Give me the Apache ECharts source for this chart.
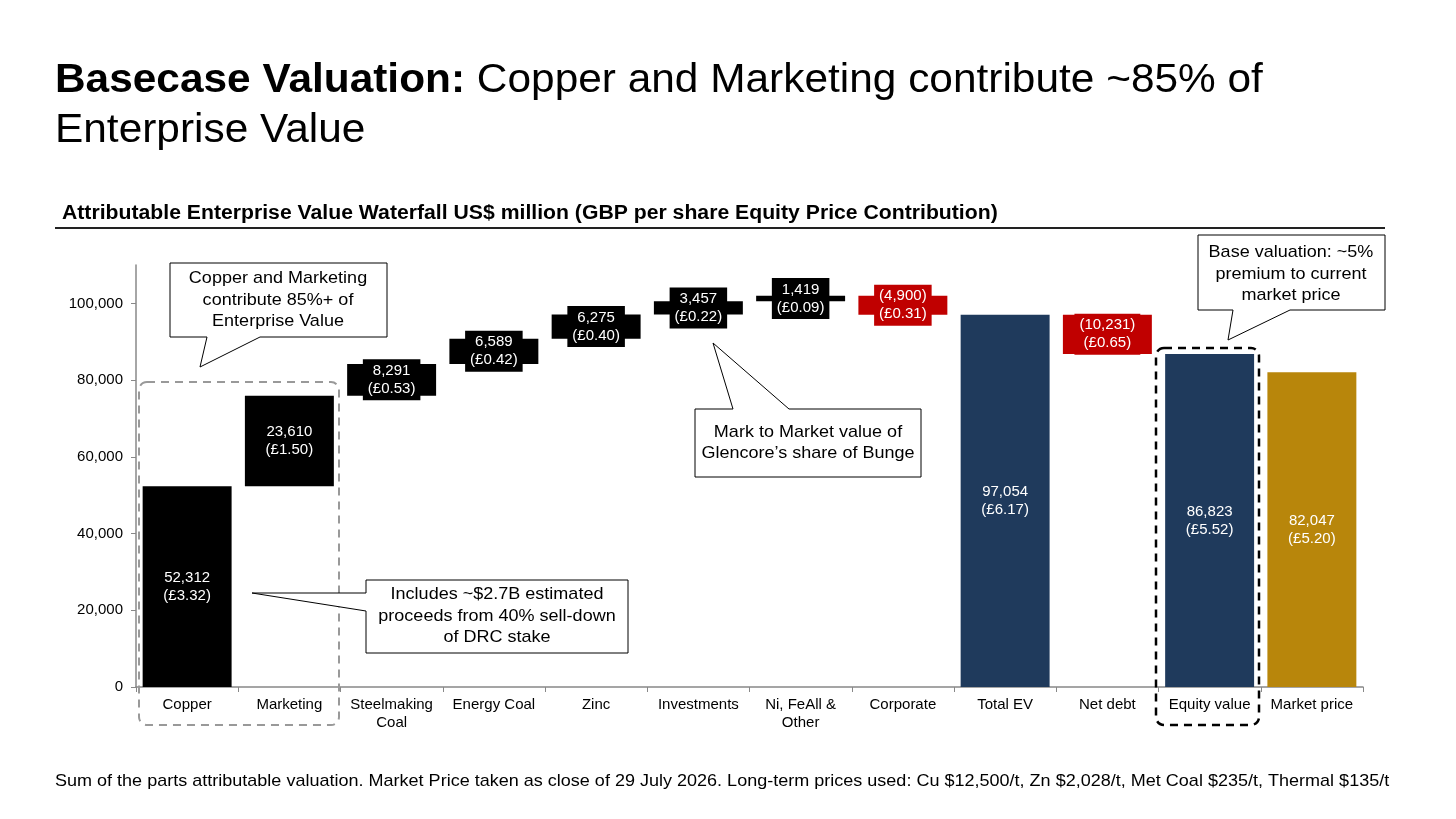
<!DOCTYPE html>
<html>
<head>
<meta charset="utf-8">
<script src="https://cdn.jsdelivr.net/npm/echarts@6/dist/echarts.min.js"></script>
<style>
html,body{margin:0;padding:0;background:#fff;}
#main{width:1456px;height:819px;}
</style>
</head>
<body>
<div id="main"></div>
<script>
// ---- Data ----
var categories = ['Copper', 'Marketing', 'Steelmaking\nCoal', 'Energy Coal', 'Zinc', 'Investments',
  'Ni, FeAll &\nOther', 'Corporate', 'Total EV', 'Net debt', 'Equity value', 'Market price'];
var values = [52312, 23610, 8291, 6589, 6275, 3457, 1419, -4900, 97054, -10231, 86823, 82047];
var gbpPerShare = [3.32, 1.50, 0.53, 0.42, 0.40, 0.22, 0.09, -0.31, 6.17, -0.65, 5.52, 5.20];
var barKind = ['delta', 'delta', 'delta', 'delta', 'delta', 'delta', 'delta', 'delta', 'total', 'delta', 'total', 'market'];
var yTicks = [0, 20000, 40000, 60000, 80000, 100000];

var FONT = '"Liberation Sans", Arial, Helvetica, sans-serif';
var COLORS = { pos: '#000000', neg: '#C00000', total: '#1F3A5C', market: '#B8860B' };

function fmt(n) {
  var s = Math.abs(n).toString().replace(/\B(?=(\d{3})+(?!\d))/g, ',');
  return n < 0 ? '(' + s + ')' : s;
}

var baseData = [], barData = [];
var running = 0;
for (var i = 0; i < values.length; i++) {
  var v = values[i], base, color;
  if (barKind[i] === 'delta') {
    if (v >= 0) { base = running; running += v; color = COLORS.pos; }
    else { running += v; base = running; color = COLORS.neg; }
  } else {
    base = 0; running = v;
    color = barKind[i] === 'market' ? COLORS.market : COLORS.total;
  }
  var floating = barKind[i] === 'delta' && Math.abs(v) < 12000;
  baseData.push(base);
  barData.push({
    value: Math.abs(v),
    itemStyle: { color: color },
    label: {
      show: true,
      position: 'inside',
      formatter: fmt(v) + '\n(£' + Math.abs(gbpPerShare[i]).toFixed(2) + ')',
      color: '#fff',
      fontSize: 15,
      lineHeight: 18,
      fontFamily: FONT,
      backgroundColor: floating ? color : 'transparent',
      padding: floating ? [3, 5, 2, 5] : 0
    }
  });
}

function txt(x, y, text, font, scaleX, extra) {
  var el = { type: 'text', x: x, y: y, scaleX: scaleX, z: 101,
    style: { text: text, fill: '#000', font: font, align: 'left', verticalAlign: 'middle' } };
  if (extra) { for (var k in extra) el.style[k] = extra[k]; }
  return el;
}

function callout(points, lines, cx, cy) {
  return [
    { type: 'polygon', shape: { points: points }, style: { fill: '#fff', stroke: '#000', lineWidth: 1 }, z: 100 },
    { type: 'text', x: cx, y: cy, z: 101, scaleX: 1.06,
      style: { text: lines, fill: '#000', font: '17px ' + FONT, align: 'center', verticalAlign: 'middle', lineHeight: 21.5 } }
  ];
}

var graphics = [
  txt(55, 81, '{b|Basecase Valuation:} Copper and Marketing contribute ~85% of', '40px ' + FONT, 1.06,
    { rich: { b: { fontWeight: 'bold', fontSize: 40, fontFamily: FONT, fill: '#000' } } }),
  txt(55, 131, 'Enterprise Value', '40px ' + FONT, 1.06),
  txt(62, 213, 'Attributable Enterprise Value Waterfall US$ million (GBP per share Equity Price Contribution)', 'bold 20px ' + FONT, 1.06),
  { type: 'line', shape: { x1: 55, y1: 228, x2: 1385, y2: 228 }, style: { stroke: '#222', lineWidth: 2 } },
  txt(55, 781, 'Sum of the parts attributable valuation. Market Price taken as close of 29 July 2026. Long-term prices used: Cu $12,500/t, Zn $2,028/t, Met Coal $235/t, Thermal $135/t', '17px ' + FONT, 1.06),
  { type: 'rect', shape: { x: 139, y: 382, width: 200, height: 343, r: 8 }, z: 90,
    style: { fill: 'none', stroke: '#999', lineWidth: 2, lineDash: [8, 6] } },
  { type: 'rect', shape: { x: 1156, y: 348, width: 103, height: 377, r: 8 }, z: 90,
    style: { fill: 'none', stroke: '#000', lineWidth: 2.5, lineDash: [8, 6] } }
];
graphics = graphics
  .concat(callout([[170,263],[387,263],[387,337],[260,337],[200,367],[207,337],[170,337]],
    'Copper and Marketing\ncontribute 85%+ of\nEnterprise Value', 278, 300))
  .concat(callout([[366,580],[628,580],[628,653],[366,653],[366,611],[252,593],[366,593]],
    'Includes ~$2.7B estimated\nproceeds from 40% sell-down\nof DRC stake', 497, 616))
  .concat(callout([[695,409],[733,409],[713,343],[789,409],[921,409],[921,477],[695,477]],
    'Mark to Market value of\nGlencore\u2019s share of Bunge', 808, 443))
  .concat(callout([[1198,235],[1385,235],[1385,310],[1290,310],[1228,340],[1233,310],[1198,310]],
    'Base valuation: ~5%\npremium to current\nmarket price', 1291, 274));

var chart = echarts.init(document.getElementById('main'), null, { renderer: 'canvas' });
chart.setOption({
  animation: false,
  backgroundColor: '#fff',
  textStyle: { fontFamily: FONT },
  grid: { left: 136, right: 93, top: 265, bottom: 132, containLabel: false },
  xAxis: {
    type: 'category',
    data: categories,
    axisLine: { lineStyle: { color: '#888', width: 1.5 } },
    axisTick: { show: true, length: 5, lineStyle: { color: '#888' } },
    axisLabel: { color: '#000', fontSize: 15, lineHeight: 18, margin: 9, fontFamily: FONT, interval: 0 }
  },
  yAxis: {
    type: 'value',
    min: 0, max: 110000, interval: 20000,
    splitLine: { show: false },
    axisLine: { show: true, lineStyle: { color: '#888', width: 1.5 } },
    axisTick: { show: true, length: 5, lineStyle: { color: '#888' }, customValues: yTicks },
    axisLabel: { color: '#000', fontSize: 15, margin: 13, fontFamily: FONT, customValues: yTicks,
      formatter: function (v) { return fmt(v); } }
  },
  series: [
    { type: 'bar', stack: 'wf', data: baseData, silent: true, barWidth: '87%',
      itemStyle: { color: 'transparent' }, label: { show: false } },
    { type: 'bar', stack: 'wf', data: barData, silent: true, barWidth: '87%', z: 3 }
  ],
  graphic: graphics
});
</script>
</body>
</html>
